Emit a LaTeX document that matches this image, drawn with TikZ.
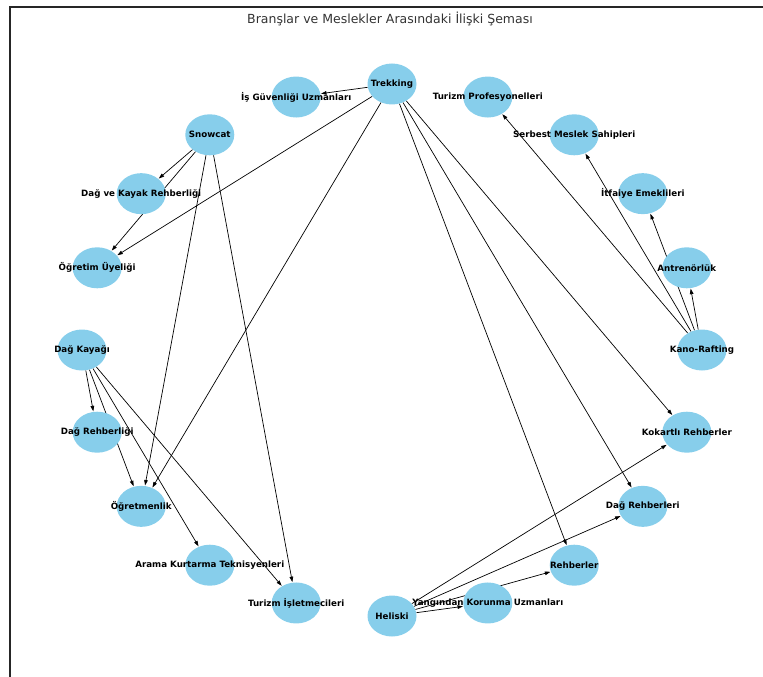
\documentclass[tikz,border=0pt]{standalone}
\usepackage{fontspec}
\setmainfont{DejaVu Sans}
\usetikzlibrary{shapes.geometric,arrows.meta}
\definecolor{skyblue}{RGB}{135,206,235}
\begin{document}
\begin{tikzpicture}[x=1bp,y=-1bp,
  nd/.style={ellipse,minimum width=49bp,minimum height=41bp,inner sep=0pt},
  ndfill/.style={nd,fill=skyblue},
  lbl/.style={font=\fontsize{8.7bp}{10bp}\selectfont\bfseries,inner sep=0pt},
  edge/.style={-{Triangle[length=5.5bp,width=3.6bp]},line width=0.7bp,black,shorten >=0.4bp}]
\useasboundingbox (0,0) rectangle (763,677);
\draw[line width=2bp, black!85] (10,677) -- (10,7) -- (763,7);
\node[font=\fontsize{12.5bp}{14bp}\selectfont, text=black!80] (title) at (390,18.5) {Branşlar ve Meslekler Arasındaki İlişki Şeması};
\foreach \n/\k in {kano/0,ant/1,itf/2,ser/3,tpr/4,trek/5,isg/6,snow/7,dkr/8,ogu/9,dk/10,drl/11,ogr/12,akt/13,tis/14,heli/15,yan/16,reh/17,dreh/18,kok/19}
  \node[nd] (\n) at ({392+310*cos(18*\k)},{350-266*sin(18*\k)}) {};
% edges
\draw[edge] (trek) -- (isg);
\draw[edge] (trek) -- (ogu);
\draw[edge] (trek) -- (ogr);
\draw[edge] (trek) -- (reh);
\draw[edge] (trek) -- (dreh);
\draw[edge] (trek) -- (kok);
\draw[edge] (snow) -- (dkr);
\draw[edge] (snow) -- (ogu);
\draw[edge] (snow) -- (ogr);
\draw[edge] (snow) -- (tis);
\draw[edge] (dk) -- (drl);
\draw[edge] (dk) -- (ogr);
\draw[edge] (dk) -- (akt);
\draw[edge] (dk) -- (tis);
\draw[edge] (kano) -- (ant);
\draw[edge] (kano) -- (itf);
\draw[edge] (kano) -- (ser);
\draw[edge] (kano) -- (tpr);
\draw[edge] (heli) -- (kok);
\draw[edge] (heli) -- (dreh);
\draw[edge] (heli) -- (reh);
\draw[edge] (heli) -- (yan);
% fills
\foreach \n in {kano,ant,itf,ser,tpr,trek,isg,snow,dkr,ogu,dk,drl,ogr,akt,tis,heli,yan,reh,dreh,kok}
  \node[ndfill] at (\n) {};
% labels
\node[lbl] (kano-l) at (kano) {Kano-Rafting};
\node[lbl] (ant-l) at (ant) {Antrenörlük};
\node[lbl] (itf-l) at (itf) {İtfaiye Emeklileri};
\node[lbl] (ser-l) at (ser) {Serbest Meslek Sahipleri};
\node[lbl] (tpr-l) at (tpr) {Turizm Profesyonelleri};
\node[lbl] (trek-l) at (trek) {Trekking};
\node[lbl] (isg-l) at (isg) {İş Güvenliği Uzmanları};
\node[lbl] (snow-l) at (snow) {Snowcat};
\node[lbl] (dkr-l) at (dkr) {Dağ ve Kayak Rehberliği};
\node[lbl] (ogu-l) at (ogu) {Öğretim Üyeliği};
\node[lbl] (dk-l) at (dk) {Dağ Kayağı};
\node[lbl] (drl-l) at (drl) {Dağ Rehberliği};
\node[lbl] (ogr-l) at (ogr) {Öğretmenlik};
\node[lbl] (akt-l) at (akt) {Arama Kurtarma Teknisyenleri};
\node[lbl] (tis-l) at (tis) {Turizm İşletmecileri};
\node[lbl] (heli-l) at (heli) {Heliski};
\node[lbl] (yan-l) at (yan) {Yangından Korunma Uzmanları};
\node[lbl] (reh-l) at (reh) {Rehberler};
\node[lbl] (dreh-l) at (dreh) {Dağ Rehberleri};
\node[lbl] (kok-l) at (kok) {Kokartlı Rehberler};
\end{tikzpicture}
\end{document}
